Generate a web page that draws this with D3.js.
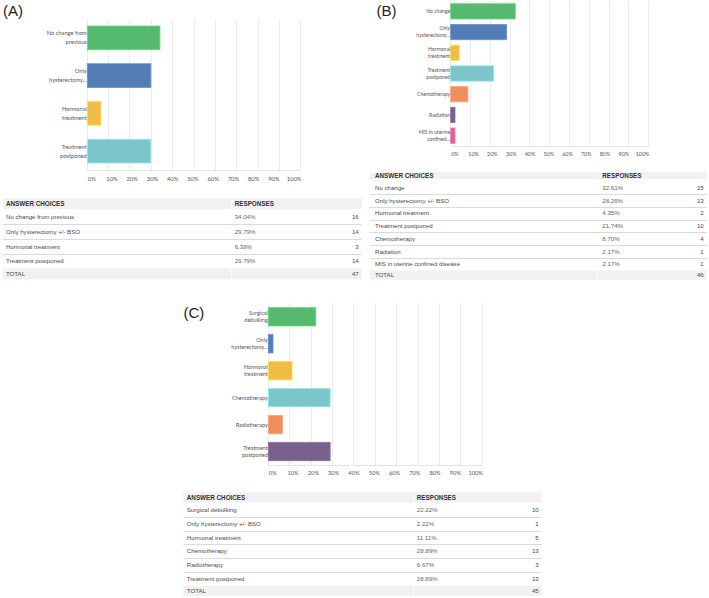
<!DOCTYPE html>
<html>
<head>
<meta charset="utf-8">
<script src="https://cdn.jsdelivr.net/npm/d3@7"></script>
<style>
  html, body { margin: 0; padding: 0; background: #fff; }
  svg { display: block; }
</style>
</head>
<body>
<svg id="fig" width="709" height="598"></svg>
<script>
// ---------- DATA ----------
const palette = ["#55b96e", "#527db5", "#f1bc45", "#7bc6c8", "#f18e5f", "#785f8c", "#d56497"];
const tickValues = [0, 10, 20, 30, 40, 50, 60, 70, 80, 90, 100];
const tickLabels = ["0%", "10%", "20%", "30%", "40%", "50%", "60%", "70%", "80%", "90%", "100%"];

// Panel A
const catsA = [["No change from", "previous"], ["Only", "hysterectomy..."], ["Hormonal", "treatment"], ["Treatment", "postponed"]];
const choicesA = ["No change from previous", "Only hysterectomy +/- BSO", "Hormonal treatment", "Treatment postponed"];
const pctA = [34.04, 29.79, 6.38, 29.79];
const countA = [16, 14, 3, 14];
const totalA = 47;

// Panel B
const catsB = [["No change"], ["Only", "hysterectomy..."], ["Hormonal", "treatment"], ["Treatment", "postponed"], ["Chemotherapy"], ["Radiation"], ["MIS in uterine", "confined..."]];
const choicesB = ["No change", "Only hysterectomy +/- BSO", "Hormonal treatment", "Treatment postponed", "Chemotherapy", "Radiation", "MIS in uterine confined disease"];
const pctB = [32.61, 28.26, 4.35, 21.74, 8.70, 2.17, 2.17];
const countB = [15, 13, 2, 10, 4, 1, 1];
const totalB = 46;

// Panel C
const catsC = [["Surgical", "debulking"], ["Only", "hysterectomy..."], ["Hormonal", "treatment"], ["Chemotherapy"], ["Radiotherapy"], ["Treatment", "postponed"]];
const choicesC = ["Surgical debulking", "Only hysterectomy +/- BSO", "Hormonal treatment", "Chemotherapy", "Radiotherapy", "Treatment postponed"];
const pctC = [22.22, 2.22, 11.11, 28.89, 6.67, 28.89];
const countC = [10, 1, 5, 13, 3, 13];
const totalC = 45;

// ---------- DRAW ----------
const svg = d3.select("#fig");
const chartFont = "Lato, 'Open Sans', sans-serif";
const tableFont = "'Liberation Sans', Arial, sans-serif";

function drawPanel(letter, L, cats, choices, pct, count, total) {
  const g = svg.append("g");
  g.append("text").attr("x", L.lx).attr("y", L.ly)
    .attr("font-family", "'Liberation Sans', Arial, sans-serif")
    .attr("font-size", 15).attr("fill", "#222").text("(" + letter + ")");

  const x = d3.scaleLinear().domain([0, 100]).range([L.x0, L.x1]);
  const xl = d3.scaleLinear().domain([0, 100]).range([L.x0 + (L.x1 - L.x0) * 0.021, L.x1 - (L.x1 - L.x0) * 0.031]);
  const y = d3.scaleBand().domain(d3.range(pct.length)).range([L.top, L.bottom])
    .paddingInner(L.pi).paddingOuter(L.po);

  g.append("g").selectAll("line").data(tickValues).join("line")
    .attr("x1", d => x(d)).attr("x2", d => x(d))
    .attr("y1", L.top).attr("y2", L.bottom)
    .attr("stroke", "#ececec").attr("stroke-width", 1).attr("shape-rendering", "crispEdges");
  g.append("line").attr("x1", L.x0).attr("x2", L.x1).attr("y1", L.bottom).attr("y2", L.bottom)
    .attr("stroke", "#e4e4e4").attr("shape-rendering", "crispEdges");

  g.append("g").selectAll("rect").data(pct).join("rect")
    .attr("x", x(0)).attr("y", (d, i) => y(i))
    .attr("width", d => x(d) - x(0)).attr("height", y.bandwidth())
    .attr("fill", (d, i) => palette[i])
    .attr("stroke", (d, i) => d3.color(palette[i]).brighter(0.5))
    .attr("stroke-width", 0.8);

  const lab = g.append("g").selectAll("text").data(cats).join("text")
    .attr("text-anchor", "end")
    .attr("font-family", chartFont).attr("font-size", L.fs).attr("fill", "#555");
  lab.each(function (lines, i) {
    const t = d3.select(this);
    const cy = y(i) + y.bandwidth() / 2;
    const n = lines.length;
    lines.forEach((ln, k) => {
      t.append("tspan").attr("x", L.x0 - 0.5)
        .attr("y", cy + (k - (n - 1) / 2) * L.lh + L.fs * 0.35)
        .text(ln);
    });
  });

  g.append("g").selectAll("text").data(tickValues).join("text")
    .attr("x", d => xl(d)).attr("y", L.bottom + L.tly)
    .attr("text-anchor", "middle")
    .attr("font-family", chartFont).attr("font-size", L.tfs).attr("fill", "#555")
    .text((d, i) => tickLabels[i]);

  // ---------- TABLE ----------
  const T = L.table;
  const fsz = T.fsz;
  const tg = g.append("g").attr("font-family", tableFont);
  tg.append("rect").attr("x", T.x0).attr("y", T.hTop).attr("width", T.xs - T.x0 - 0.5).attr("height", T.hBot - T.hTop).attr("fill", "#f1f1f1");
  tg.append("rect").attr("x", T.xs + 0.5).attr("y", T.hTop).attr("width", T.x1 - T.xs - 0.5).attr("height", T.hBot - T.hTop).attr("fill", "#f1f1f1");
  tg.append("text").attr("x", T.x0 + T.pad).attr("y", (T.hTop + T.hBot) / 2 + 2.2)
    .attr("font-size", 6.3).attr("font-weight", "bold").attr("fill", "#333").text("ANSWER CHOICES");
  tg.append("text").attr("x", T.xs + T.pad).attr("y", (T.hTop + T.hBot) / 2 + 2.2)
    .attr("font-size", 6.3).attr("font-weight", "bold").attr("fill", "#333").text("RESPONSES");

  const rows = tg.append("g").selectAll("g").data(choices).join("g");
  rows.append("text").attr("x", T.x0 + T.pad).attr("y", (d, i) => T.r0 + T.rh * (i + 0.5) + 2.1)
    .attr("font-size", fsz).attr("fill", "#4a4a4a").text(d => d);
  rows.append("text").attr("x", T.xs + T.pad).attr("y", (d, i) => T.r0 + T.rh * (i + 0.5) + 2.1)
    .attr("font-size", fsz).attr("fill", "#666").text((d, i) => pct[i].toFixed(2) + "%");
  rows.append("text").attr("x", T.x1 - 3).attr("y", (d, i) => T.r0 + T.rh * (i + 0.5) + 2.1)
    .attr("text-anchor", "end")
    .attr("font-size", fsz).attr("fill", "#4a4a4a").text((d, i) => count[i]);
  rows.filter((d, i) => i < choices.length - 1).append("line")
    .attr("x1", T.x0).attr("x2", T.x1)
    .attr("y1", (d, i) => Math.round(T.r0 + T.rh * (i + 1)) + 0.5)
    .attr("y2", (d, i) => Math.round(T.r0 + T.rh * (i + 1)) + 0.5)
    .attr("stroke", "#dadada").attr("stroke-width", 1);

  const tTop = T.r0 + T.rh * choices.length;
  tg.append("rect").attr("x", T.x0).attr("y", tTop).attr("width", T.xs - T.x0 - 0.5).attr("height", T.tH).attr("fill", "#f1f1f1");
  tg.append("rect").attr("x", T.xs + 0.5).attr("y", tTop).attr("width", T.x1 - T.xs - 0.5).attr("height", T.tH).attr("fill", "#f1f1f1");
  tg.append("text").attr("x", T.x0 + T.pad).attr("y", tTop + T.tH / 2 + 2.1)
    .attr("font-size", fsz).attr("fill", "#4a4a4a").text("TOTAL");
  tg.append("text").attr("x", T.x1 - 3).attr("y", tTop + T.tH / 2 + 2.1)
    .attr("text-anchor", "end").attr("font-size", fsz).attr("fill", "#4a4a4a").text(total);
}

drawPanel("A", {
  lx: 3, ly: 15.5,
  x0: 87.3, x1: 300.7, top: 19, bottom: 170, pi: 0.37, po: 0.185,
  fs: 5.7, lh: 9, tfs: 5.8, tly: 11,
  table: { x0: 3, x1: 361.7, xs: 231.7, pad: 3, hTop: 198.3, hBot: 209, r0: 209.8, rh: 14.65, tH: 11, fsz: 6.1 }
}, catsA, choicesA, pctA, countA, totalA);

drawPanel("B", {
  lx: 376.5, ly: 15.5,
  x0: 450.7, x1: 648.7, top: 1, bottom: 146, pi: 0.26, po: 0.13,
  fs: 5.1, lh: 6.8, tfs: 5.4, tly: 9.5,
  table: { x0: 370, x1: 706.7, xs: 597.3, pad: 5, hTop: 172.3, hBot: 179.3, r0: 181.6, rh: 12.7, tH: 9.2, fsz: 6.1 }
}, catsB, choicesB, pctB, countB, totalB);

drawPanel("C", {
  lx: 183.5, ly: 318,
  x0: 268.3, x1: 482.3, top: 303.3, bottom: 465, pi: 0.315, po: 0.157,
  fs: 5.5, lh: 7.4, tfs: 5.7, tly: 10,
  table: { x0: 183.3, x1: 541.7, xs: 413.3, pad: 3.5, hTop: 492.3, hBot: 502.5, r0: 502.9, rh: 13.8, tH: 10.4, fsz: 6.1 }
}, catsC, choicesC, pctC, countC, totalC);
</script>
</body>
</html>
